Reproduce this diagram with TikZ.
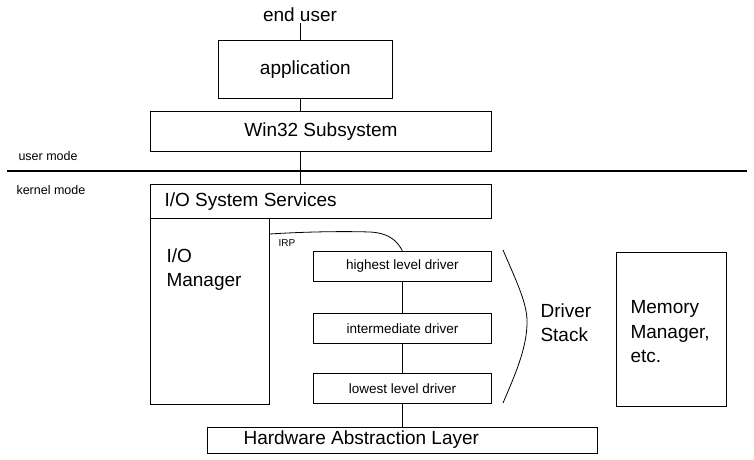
\documentclass[tikz,border=0pt]{standalone}
\usepackage{fontspec}
\setmainfont{Liberation Sans}
\begin{document}
\begin{tikzpicture}[x=1pt,y=-1pt,
  box/.style={draw, line width=0.8pt, inner sep=0pt, anchor=north west},
  big/.style={font=\fontsize{19}{24.5}\selectfont},
  small/.style={font=\fontsize{13.5}{15}\selectfont},
  conn/.style={line width=0.8pt}]
\useasboundingbox (0,0) rectangle (754,459);
\node[big, inner sep=1pt] (eu) at (300,15) {end user};
\node[box, minimum width=174pt, minimum height=58pt] (app) at (218,40) {};
\node[big] at (app.center) {application};
\node[box, minimum width=341pt, minimum height=40pt] (win) at (150,111) {};
\node[big] at (win.center) {Win32 Subsystem};
\node[font=\fontsize{12.5}{14}\selectfont, anchor=west] (um) at (15,156) {user mode};
\coordinate (la) at (7,171);
\coordinate (lb) at (747,171);
\draw[line width=2.6pt] (la) -- (lb);
\node[font=\fontsize{12.5}{14}\selectfont, anchor=west] (km) at (13,190) {kernel mode};
\node[box, minimum width=341pt, minimum height=34pt] (ios) at (150,184) {};
\node[big, anchor=west] at (161,202) {I/O System Services};
\node[box, minimum width=119pt, minimum height=186pt] (iom) at (150,218) {};
\node[big, anchor=north west, align=left] at (163,245) {I/O\\Manager};
\node[box, minimum width=178pt, minimum height=30pt] (hld) at (313,251) {};
\node[small] at (hld.center) {highest level driver};
\node[box, minimum width=178pt, minimum height=30pt] (imd) at (313,313) {};
\node[small] at (imd.center) {intermediate driver};
\node[box, minimum width=178pt, minimum height=30pt] (lld) at (313,373) {};
\node[small] at (lld.center) {lowest level driver};
\node[box, minimum width=390pt, minimum height=26pt] (hal) at (207,427) {};
\node[big, anchor=west] at (240,440) {Hardware Abstraction Layer};
\node[box, minimum width=110pt, minimum height=154pt] (mm) at (616,252) {};
\node[big, anchor=north west, align=left] at (627,297) {Memory\\Manager,\\etc.};
\node[big, align=left, anchor=north west] (ds) at (537,300) {Driver\\Stack};
\node[font=\fontsize{10}{12}\selectfont] (irp) at (287,243) {IRP};
% connectors
\draw[conn] (eu.south) -- (eu.south |- app.north);
\draw[conn] (eu.south |- app.south) -- (eu.south |- win.north);
\draw[conn] (eu.south |- win.south) -- (eu.south |- ios.north);
\draw[conn] (hld.south) -- (imd.north);
\draw[conn] (imd.south) -- (lld.north);
\draw[conn] (lld.south) -- (hal.north -| lld.south);
\coordinate (irpA) at (iom.north east |- 0,234);
\draw[conn] (irpA) .. controls (300,232) and (340,231) .. (370,232) .. controls (390,233) and (398,242) .. (hld.north);
\coordinate (bt) at (503,250);
\coordinate (bb) at (503,403);
\draw[conn] (bt) .. controls (518,285) and (528,305) .. (527,325) .. controls (526,350) and (515,375) .. (bb);
\end{tikzpicture}
\end{document}
